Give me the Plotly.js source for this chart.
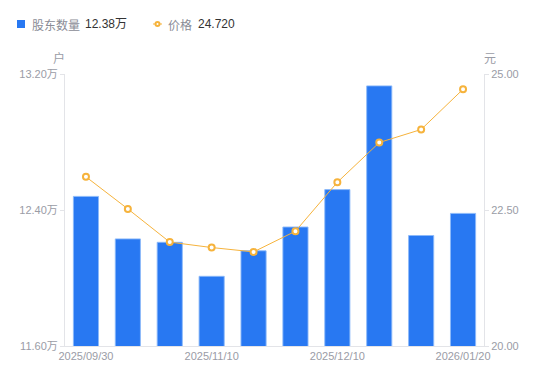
<!DOCTYPE html>
<html>
<head>
<meta charset="utf-8">
<script src="https://cdn.plot.ly/plotly-3.0.1.min.js"></script>
<style>
html,body{margin:0;padding:0;background:#fff;}
#chart{width:550px;height:381px;}
</style>
</head>
<body>
<div id="chart"></div>
<script>
const categories = ["2025/09/30","2025/10/20","2025/10/31","2025/11/10","2025/11/20","2025/11/30","2025/12/10","2025/12/20","2025/12/31","2026/01/20"];
const holders = [12.48, 12.23, 12.21, 12.01, 12.16, 12.30, 12.52, 13.13, 12.25, 12.38]; // 万户
const price = [23.11, 22.52, 21.91, 21.81, 21.73, 22.11, 23.01, 23.74, 23.98, 24.72]; // 元
const tickIdx = [0, 3, 6, 9];
const leftTicks = [11.6, 12.4, 13.2];
const rightTicks = [20, 22.5, 25];

const FONT = "Liberation Sans, Arial, Noto Sans CJK SC, sans-serif";
const GRAY = "#9a9ca6";
const AXIS = "#e3e4e8";
const BLUE = "#2878f2";
const ORANGE = "#f6b33c";

const traces = [
  {
    type: "bar", x: categories, y: holders, name: "股东数量",
    marker: {color: BLUE, line: {color: "rgba(140,185,250,0.9)", width: 1}},
    yaxis: "y", hoverinfo: "none"
  },
  {
    type: "scatter", mode: "lines+markers", x: categories, y: price, name: "价格",
    line: {color: ORANGE, width: 1},
    marker: {symbol: "circle", size: 6, color: "#ffffff", line: {color: ORANGE, width: 2}},
    yaxis: "y2", hoverinfo: "none"
  }
];

const lastH = holders[holders.length - 1].toFixed(2) + "万";
const lastP = price[price.length - 1].toFixed(3);

const PW = 419, PH = 272, L = 65, T = 74;
const px = p => (p - L) / PW;
const py = p => 1 + (T - p) / PH;

const layout = {
  width: 550, height: 381,
  margin: {l: 65, r: 66, t: 74, b: 35, pad: 0},
  paper_bgcolor: "#fff", plot_bgcolor: "#fff",
  showlegend: false,
  bargap: 0.4,
  font: {family: FONT, color: GRAY, size: 11},
  xaxis: {
    type: "category",
    range: [-0.5, categories.length - 0.5],
    autorange: false,
    tickmode: "array",
    tickvals: tickIdx.map(i => categories[i]),
    ticktext: tickIdx.map(i => categories[i]),
    showline: true, linecolor: AXIS, linewidth: 1,
    showgrid: false, zeroline: false, ticks: "",
    tickfont: {size: 11, color: GRAY, family: FONT},
    fixedrange: true
  },
  yaxis: {
    range: [11.6, 13.2],
    tickmode: "array",
    tickvals: leftTicks,
    ticktext: leftTicks.map(v => v.toFixed(2) + "万"),
    showline: true, linecolor: AXIS, linewidth: 1,
    ticks: "outside", ticklen: 4, tickcolor: AXIS,
    showgrid: false, zeroline: false,
    tickfont: {size: 11, color: GRAY, family: FONT}
  },
  yaxis2: {
    overlaying: "y", side: "right",
    range: [20, 25],
    tickmode: "array",
    tickvals: rightTicks,
    ticktext: rightTicks.map(v => v.toFixed(2)),
    showline: true, linecolor: AXIS, linewidth: 1,
    ticks: "outside", ticklen: 4, tickcolor: AXIS,
    showgrid: false, zeroline: false,
    tickfont: {size: 11, color: GRAY, family: FONT}
  },
  shapes: [
    {type: "rect", xref: "paper", yref: "paper", x0: px(17), x1: px(25), y0: py(28), y1: py(20),
     fillcolor: BLUE, line: {width: 0}},
    {type: "line", xref: "paper", yref: "paper", x0: px(153), x1: px(162), y0: py(24), y1: py(24),
     line: {color: ORANGE, width: 1}},
    {type: "circle", xref: "paper", yref: "paper", x0: px(155.5), x1: px(159.5), y0: py(26), y1: py(22),
     fillcolor: "#fff", line: {color: ORANGE, width: 2}}
  ],
  annotations: [
    {xref: "paper", yref: "paper", x: px(30), y: py(24), xanchor: "left", yanchor: "middle", showarrow: false,
     text: "股东数量", font: {size: 12, color: "#8a8c96", family: "Noto Sans CJK SC, sans-serif"}},
    {xref: "paper", yref: "paper", x: px(83), y: py(24), xanchor: "left", yanchor: "middle", showarrow: false,
     text: lastH, font: {size: 12, color: "#333333", family: FONT}},
    {xref: "paper", yref: "paper", x: px(166), y: py(24), xanchor: "left", yanchor: "middle", showarrow: false,
     text: "价格", font: {size: 12, color: "#8a8c96", family: "Noto Sans CJK SC, sans-serif"}},
    {xref: "paper", yref: "paper", x: px(196), y: py(24), xanchor: "left", yanchor: "middle", showarrow: false,
     text: lastP, font: {size: 12, color: "#333333", family: FONT}},
    {xref: "paper", yref: "paper", x: px(59), y: py(57), xanchor: "center", yanchor: "middle", showarrow: false,
     text: "户", font: {size: 12, color: GRAY, family: "Noto Sans CJK SC, sans-serif"}},
    {xref: "paper", yref: "paper", x: px(490), y: py(57), xanchor: "center", yanchor: "middle", showarrow: false,
     text: "元", font: {size: 12, color: GRAY, family: "Noto Sans CJK SC, sans-serif"}}
  ]
};

Plotly.newPlot("chart", traces, layout, {displayModeBar: false, staticPlot: true});
</script>
</body>
</html>
